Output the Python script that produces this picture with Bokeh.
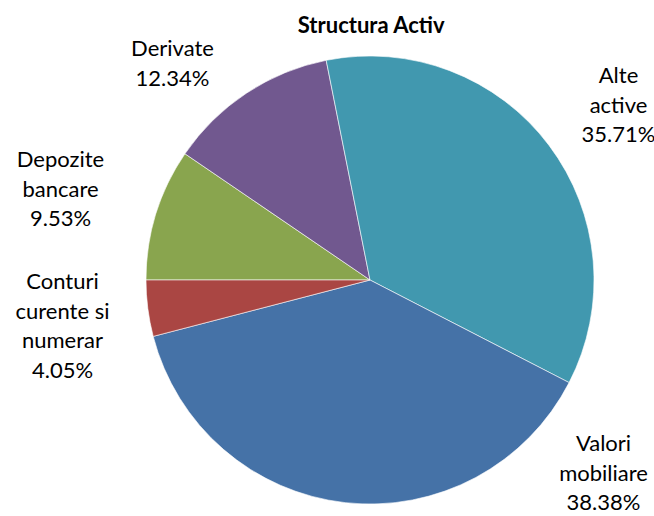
import numpy as np
from bokeh.plotting import figure
from bokeh.models import Range1d, ColumnDataSource
from bokeh.core.properties import value
from bokeh.embed import file_html
from bokeh.resources import INLINE

# ---- data (order: clockwise starting at 9 o'clock) ----
categories = ["Depozite\nbancare", "Derivate", "Alte\nactive", "Valori\nmobiliare", "Conturi\ncurente si\nnumerar"]
shares = [9.53, 12.34, 35.71, 38.38, 4.05]
colors = ["#89A54E", "#71588F", "#4198AF", "#4572A7", "#AA4643"]
title = "Structura Activ"

# ---- layout (image pixel coordinates) ----
W, H = 654, 516
cx, cy, R = 369.5, 279.5, 224
label_pos = [(60, 158), (172, 47), (618, 74), (603, 442), (62, 280)]
line_step = 29.6
font = "Lato"

def Y(y):
    return H - y

p = figure(width=W, height=H, output_backend="svg", toolbar_location=None,
           x_range=Range1d(0, W), y_range=Range1d(0, H),
           min_border=0, outline_line_color=None, background_fill_color="white")
p.axis.visible = False
p.grid.visible = False

fr = np.array(shares) / np.sum(shares)
cum = np.concatenate([[0], np.cumsum(fr)])
start = np.pi - cum[1:] * 2 * np.pi
end = np.pi - cum[:-1] * 2 * np.pi
src = ColumnDataSource(dict(start=start, end=end, color=colors))
p.wedge(x=cx, y=Y(cy), radius=R, radius_units="screen", start_angle="start", end_angle="end",
        fill_color="color", line_color="white", line_width=0.6, source=src)

xs, ys, ts = [], [], []
for name, v, (lx, ly) in zip(categories, shares, label_pos):
    lines = name.split("\n") + [f"{v:.2f}%"]
    for i, t in enumerate(lines):
        xs.append(lx)
        ys.append(Y(ly + i * line_step))
        ts.append(t)
p.text(x=xs, y=ys, text=ts, text_align="center", text_baseline="middle",
       text_font=value(font), text_font_size="22px", text_color="#000000")

p.text(x=[371], y=[Y(24)], text=[title], text_align="center", text_baseline="middle",
       text_font=value(font), text_font_size="22px", text_font_style="bold", text_color="#000000")

open("out.html", "w").write(file_html(p, INLINE))
